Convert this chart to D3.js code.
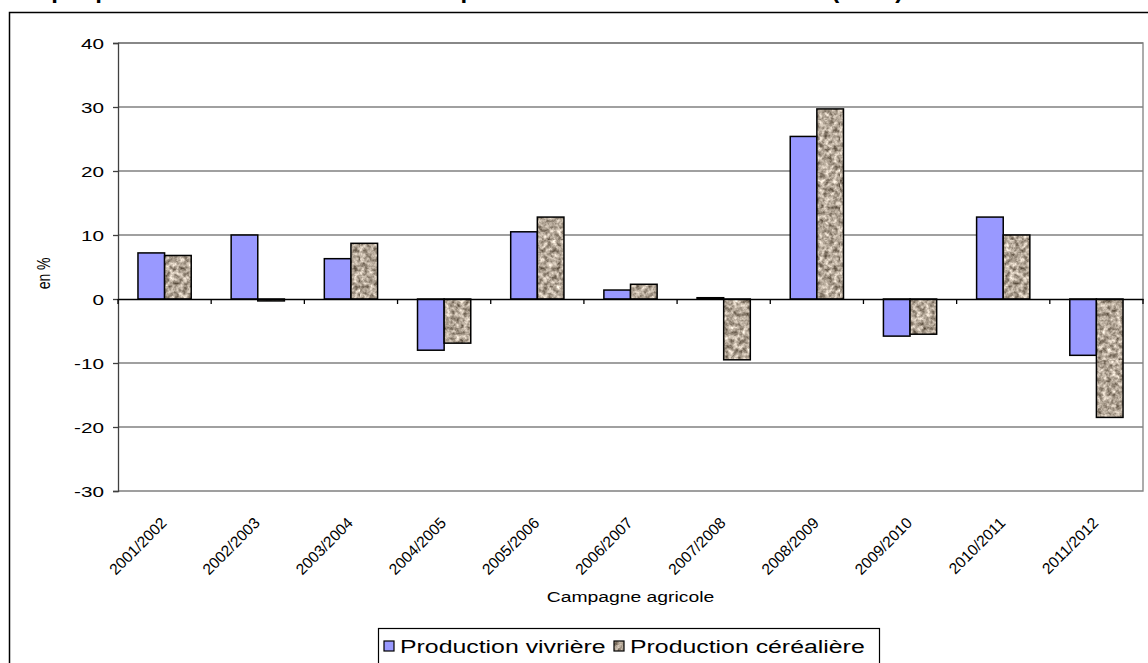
<!DOCTYPE html>
<html>
<head>
<meta charset="utf-8">
<script src="https://cdn.jsdelivr.net/npm/d3@7"></script>
<style>
  html, body { margin: 0; padding: 0; background: #fff; }
  svg { display: block; font-family: "Liberation Sans", Arial, sans-serif; }
</style>
</head>
<body>
<svg id="chart" width="1148" height="663"></svg>
<script>
// Growth of food and cereal production by farming season (in %)
const campagnes = ["2001/2002", "2002/2003", "2003/2004", "2004/2005", "2005/2006", "2006/2007",
                   "2007/2008", "2008/2009", "2009/2010", "2010/2011", "2011/2012"];
const vivriere   = [7.2, 10.0, 6.3, -8.0, 10.5, 1.4, 0.2, 25.4, -5.8, 12.8, -8.8];
const cerealiere = [6.8, -0.3, 8.7, -6.9, 12.8, 2.3, -9.5, 29.7, -5.5, 10.0, -18.5];
const seriesNames = ["Production vivrière", "Production céréalière"];
const yTicks = [-30, -20, -10, 0, 10, 20, 30, 40];

const svg = d3.select("#chart");
const W = 1148, H = 663;
const plot = { left: 118, right: 1143, top: 43, bottom: 491 };
const WIDE = 1.38; // horizontal stretch of the chart lettering

// horizontal text drawn with the wide lettering
function wideText(g, x, yPos, str, size, anchor) {
  return g.append("text")
    .attr("transform", `translate(${x},${yPos}) scale(${WIDE},1)`)
    .attr("text-anchor", anchor || "start")
    .attr("font-size", size).attr("fill", "#000")
    .text(str);
}

// granite-like texture for the cereal series
const defs = svg.append("defs");
const flt = defs.append("filter").attr("id", "grain")
  .attr("x", 0).attr("y", 0).attr("width", 120).attr("height", 120)
  .attr("filterUnits", "userSpaceOnUse")
  .attr("color-interpolation-filters", "sRGB");
flt.append("feTurbulence").attr("type", "fractalNoise")
  .attr("baseFrequency", "0.22").attr("numOctaves", 3).attr("seed", 7).attr("result", "n");
flt.append("feColorMatrix").attr("in", "n").attr("type", "matrix")
  .attr("values", "1.0 0 0 0 0.2  1.0 0 0 0 0.15  1.0 0 0 0 0.09  0 0 0 0 1");
const pat = defs.append("pattern").attr("id", "granite")
  .attr("patternUnits", "userSpaceOnUse").attr("width", 120).attr("height", 120);
pat.append("rect").attr("width", 120).attr("height", 120).attr("filter", "url(#grain)");

// Outer chart frame
svg.append("rect").attr("x", 9.5).attr("y", 12.5).attr("width", W).attr("height", H)
  .attr("fill", "none").attr("stroke", "#000").attr("stroke-width", 1.5);

// Title (sits above the visible frame)
svg.append("text").attr("x", 10).attr("y", -2)
  .attr("font-size", 24).attr("font-weight", "bold")
  .text("Graphique 3 : Taux de croissance de la production vivrière et céréalière (en %)");

const x0 = d3.scaleBand().domain(campagnes).range([plot.left, plot.right]).paddingInner(0).paddingOuter(0);
// bars occupy 2 of 3.5 units per band (gap width 150%)
const bw = x0.bandwidth() / 3.5;
const y = d3.scaleLinear().domain([-30, 40]).range([plot.bottom, plot.top]);

// Gridlines
svg.append("g").selectAll("line").data(yTicks.filter(d => d !== 0 && d !== -30)).join("line")
  .attr("x1", plot.left).attr("x2", plot.right)
  .attr("y1", d => y(d)).attr("y2", d => y(d))
  .attr("stroke", "#808080").attr("stroke-width", 1.3);

// Plot area border (right and bottom)
svg.append("path")
  .attr("d", `M${plot.left},${y(40)}H${plot.right}V${plot.bottom}H${plot.left}`)
  .attr("fill", "none").attr("stroke", "#808080").attr("stroke-width", 1.3);

// Y axis line and ticks
const yAxis = d3.axisLeft(y).tickValues(yTicks).tickSize(5).tickFormat("");
const gy = svg.append("g").attr("transform", `translate(${plot.left},0)`).call(yAxis);
gy.select(".domain").attr("stroke", "#404040").attr("stroke-width", 1.3);
gy.selectAll(".tick line").attr("stroke", "#404040").attr("stroke-width", 1.3);
const gyl = svg.append("g");
yTicks.forEach(t => wideText(gyl, 104, y(t) + 5.5, t < 0 ? "-" + Math.abs(t) : String(t), 15, "end"));

// Bars
const rows = campagnes.map((c, i) => ({ c, v: [vivriere[i], cerealiere[i]] }));
const fills = ["#9999ff", "url(#granite)"];
const gBars = svg.append("g");
rows.forEach(r => {
  r.v.forEach((v, k) => {
    gBars.append("rect")
      .attr("x", x0(r.c) + bw * 0.75 + k * bw)
      .attr("y", y(Math.max(0, v)))
      .attr("width", bw)
      .attr("height", Math.abs(y(v) - y(0)))
      .attr("fill", fills[k])
      .attr("stroke", "#000").attr("stroke-width", 1.5);
  });
});

// Category axis along zero
const xAxis = d3.axisBottom(x0).tickSize(0).tickFormat("");
const gx = svg.append("g").attr("transform", `translate(0,${y(0)})`).call(xAxis);
gx.select(".domain").attr("stroke", "#000").attr("stroke-width", 1.3);
svg.append("g").selectAll("line").data(d3.range(campagnes.length + 1)).join("line")
  .attr("x1", i => plot.left + i * x0.bandwidth()).attr("x2", i => plot.left + i * x0.bandwidth())
  .attr("y1", y(0)).attr("y2", y(0) + 5)
  .attr("stroke", "#000").attr("stroke-width", 1.3);

// Rotated category labels
svg.append("g").selectAll("text").data(campagnes).join("text")
  .attr("transform", d => `translate(${x0(d) + x0.bandwidth() / 2 + 3},${524}) rotate(-45)`)
  .attr("text-anchor", "end").attr("font-size", 15.5).attr("fill", "#000")
  .text(d => d);

// Axis titles
wideText(svg, (plot.left + plot.right) / 2, 602, "Campagne agricole", 14, "middle");
svg.append("text").attr("transform", `translate(50,${y(4)}) rotate(-90) scale(1,1.3)`)
  .attr("text-anchor", "middle").attr("font-size", 14).text("en %");

// Legend
const lg = svg.append("g");
lg.append("rect").attr("x", 378.5).attr("y", 628.5).attr("width", 501).attr("height", 50)
  .attr("fill", "#fff").attr("stroke", "#000").attr("stroke-width", 1.2);
const legendX = [384, 614];
seriesNames.forEach((name, k) => {
  lg.append("rect").attr("x", legendX[k]).attr("y", 641).attr("width", 10).attr("height", 10)
    .attr("fill", fills[k]).attr("stroke", "#000").attr("stroke-width", 1.2);
  wideText(lg, legendX[k] + 16, 653, name, 18);
});
</script>
</body>
</html>
